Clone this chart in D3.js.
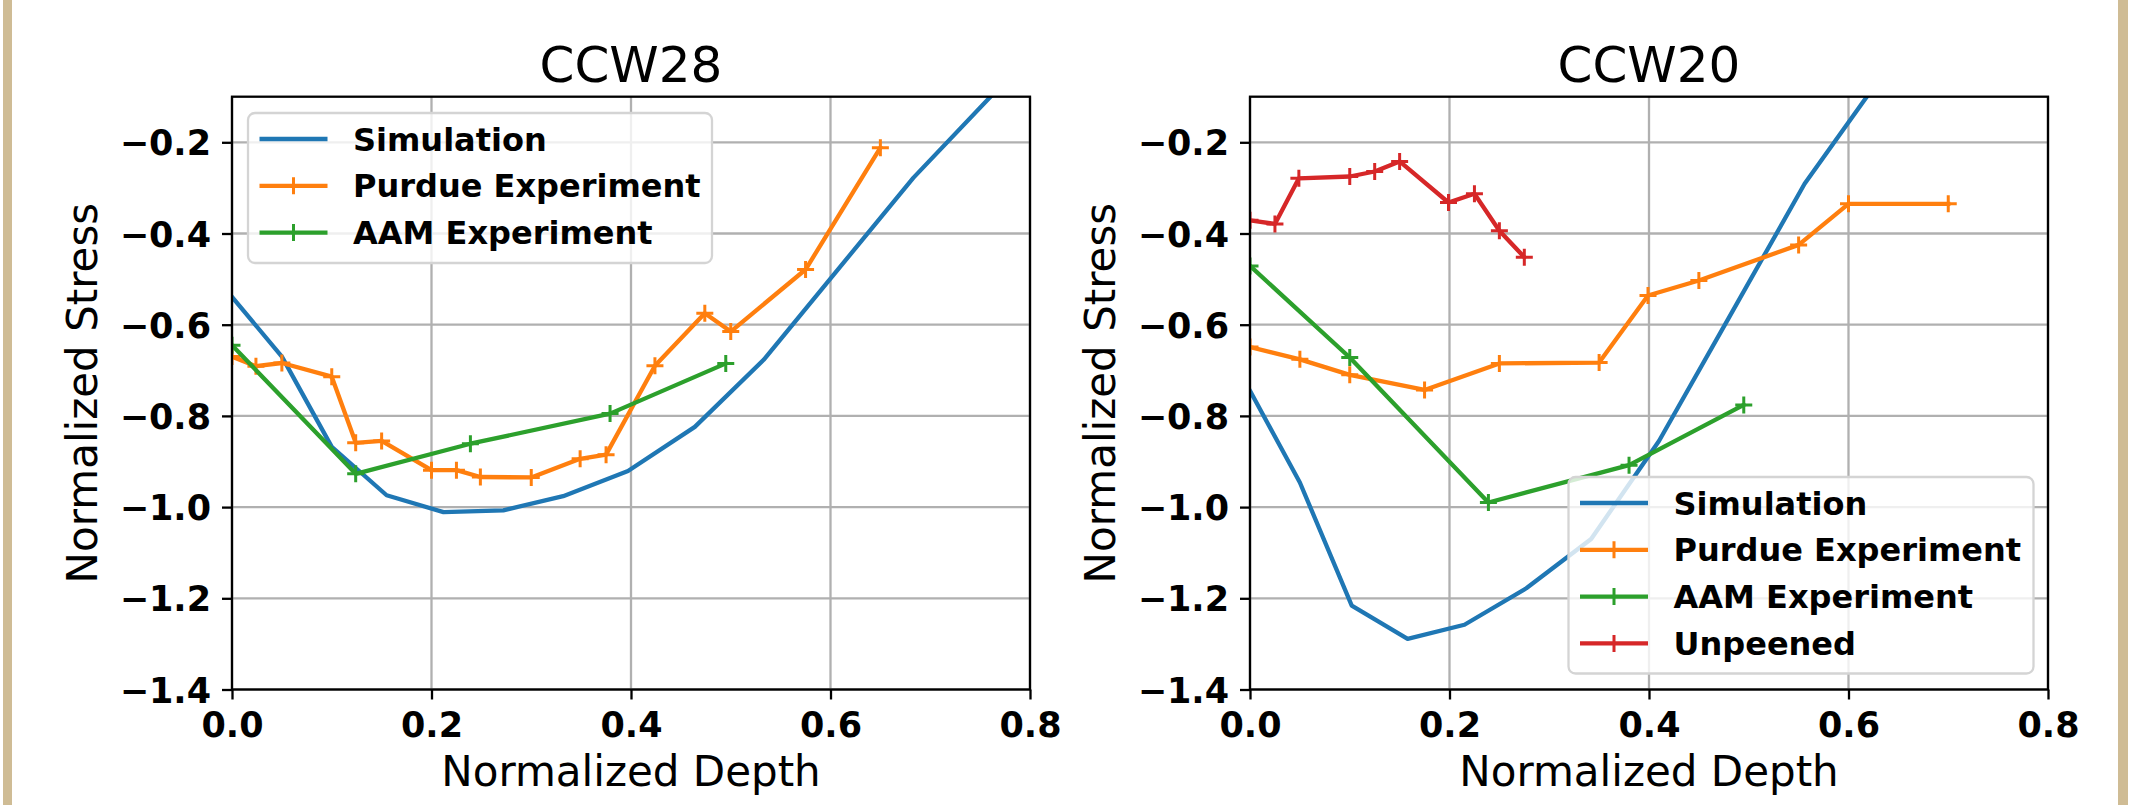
<!DOCTYPE html>
<html>
<head>
<meta charset="utf-8">
<script src="https://cdn.jsdelivr.net/npm/d3@7"></script>
<style>
  body { margin: 0; background: #fff; }
  svg { display: block; font-family: 'DejaVu Sans', sans-serif; }
</style>
</head>
<body>
<div id="chart"></div>
<script>
// values: [normalized depth, normalized stress]
const ccw28Simulation = [
  [0, -0.539], [0.05, -0.670], [0.100, -0.868], [0.155, -0.974], [0.212, -1.011],
  [0.272, -1.007], [0.332, -0.976], [0.397, -0.921], [0.464, -0.824], [0.533, -0.677],
  [0.683, -0.278], [0.83, 0.06]
];
const ccw28Purdue = [
  [0, -0.670], [0.024, -0.691], [0.050, -0.684], [0.100, -0.714], [0.124, -0.859],
  [0.150, -0.855], [0.200, -0.919], [0.225, -0.919], [0.249, -0.934], [0.300, -0.935],
  [0.349, -0.894], [0.375, -0.885], [0.424, -0.690], [0.474, -0.575], [0.500, -0.615],
  [0.575, -0.479], [0.650, -0.212]
];
const ccw28Aam = [
  [0, -0.645], [0.124, -0.927], [0.239, -0.861], [0.379, -0.795], [0.495, -0.685]
];

const ccw20Simulation = [
  [0, -0.745], [0.050, -0.946], [0.102, -1.216], [0.158, -1.289], [0.215, -1.258],
  [0.277, -1.178], [0.342, -1.070], [0.41, -0.855], [0.48, -0.585], [0.556, -0.291],
  [0.70, 0.15]
];
const ccw20Purdue = [
  [0, -0.649], [0.050, -0.676], [0.100, -0.710], [0.175, -0.743], [0.250, -0.685],
  [0.350, -0.683], [0.399, -0.536], [0.450, -0.503], [0.550, -0.425], [0.600, -0.335],
  [0.700, -0.335]
];
const ccw20Aam = [
  [0, -0.471], [0.100, -0.672], [0.239, -0.990], [0.380, -0.908], [0.495, -0.776]
];
const ccw20Unpeened = [
  [0, -0.371], [0.025, -0.379], [0.049, -0.279], [0.100, -0.275], [0.125, -0.264],
  [0.150, -0.242], [0.199, -0.332], [0.225, -0.313], [0.250, -0.394], [0.275, -0.452]
];

const xTicks = [0, 0.2, 0.4, 0.6, 0.8];
const yTicks = [-1.4, -1.2, -1.0, -0.8, -0.6, -0.4, -0.2];
const xDomain = [0, 0.8];
const yDomain = [-1.4, -0.1];

const seriesNames = ['Simulation', 'Purdue Experiment', 'AAM Experiment', 'Unpeened'];
const seriesColors = ['#1f77b4', '#ff7f0e', '#2ca02c', '#d62728'];
const seriesMarkers = [false, true, true, true];

const width = 2137;
const height = 805;

const svg = d3.select('#chart')
  .append('svg')
    .attr('width', width)
    .attr('height', height);

svg.append('rect')
  .attr('width', width)
  .attr('height', height)
  .attr('fill', '#fff');

// beige page edges
svg.append('rect').attr('x', 3).attr('y', 0).attr('width', 9).attr('height', height).attr('fill', '#cfbc95');
svg.append('rect').attr('x', 2118).attr('y', 0).attr('width', 10).attr('height', height).attr('fill', '#cfbc95');

const plusPath = s => `M${-s},0H${s}M0,${-s}V${s}`;

function drawPanel(opts) {
  const { left, right, top, bottom, title, series, legend, id } = opts;

  const x = d3.scaleLinear().domain(xDomain).range([left, right]);
  const y = d3.scaleLinear().domain(yDomain).range([bottom, top]);

  const g = svg.append('g');

  g.append('clipPath')
    .attr('id', id)
    .append('rect')
      .attr('x', left)
      .attr('y', top)
      .attr('width', right - left)
      .attr('height', bottom - top);

  // grid
  g.append('g')
    .selectAll('line')
    .data(xTicks)
    .join('line')
      .attr('x1', d => x(d)).attr('x2', d => x(d))
      .attr('y1', top).attr('y2', bottom)
      .attr('stroke', '#b0b0b0')
      .attr('stroke-width', 2.3);

  g.append('g')
    .selectAll('line')
    .data(yTicks)
    .join('line')
      .attr('x1', left).attr('x2', right)
      .attr('y1', d => y(d)).attr('y2', d => y(d))
      .attr('stroke', '#b0b0b0')
      .attr('stroke-width', 2.3);

  // series
  const line = d3.line().x(d => x(d[0])).y(d => y(d[1]));
  const plot = g.append('g').attr('clip-path', `url(#${id})`);

  series.forEach(s => {
    plot.append('path')
      .datum(s.data)
      .attr('fill', 'none')
      .attr('stroke', seriesColors[s.index])
      .attr('stroke-width', 4.3)
      .attr('stroke-linejoin', 'round')
      .attr('stroke-linecap', 'square')
      .attr('d', line);

    if (seriesMarkers[s.index]) {
      plot.append('g')
        .selectAll('path')
        .data(s.data)
        .join('path')
          .attr('transform', d => `translate(${x(d[0])},${y(d[1])})`)
          .attr('d', plusPath(8.5))
          .attr('stroke', seriesColors[s.index])
          .attr('stroke-width', 3)
          .attr('fill', 'none');
    }
  });

  // spines
  g.append('rect')
    .attr('x', left)
    .attr('y', top)
    .attr('width', right - left)
    .attr('height', bottom - top)
    .attr('fill', 'none')
    .attr('stroke', '#000')
    .attr('stroke-width', 2.3);

  // axes
  const xAxis = d3.axisBottom(x)
    .tickValues(xTicks)
    .tickSize(10)
    .tickPadding(11)
    .tickFormat(d3.format('.1f'));

  const yAxis = d3.axisLeft(y)
    .tickValues(yTicks)
    .tickSize(10)
    .tickPadding(11)
    .tickFormat(d3.format('.1f'));

  const ax = g.append('g')
    .attr('transform', `translate(0,${bottom})`)
    .call(xAxis);

  const ay = g.append('g')
    .attr('transform', `translate(${left},0)`)
    .call(yAxis);

  [ax, ay].forEach(a => {
    a.select('.domain').remove();
    a.selectAll('.tick line').attr('stroke', '#000').attr('stroke-width', 2.3);
    a.selectAll('.tick text')
      .attr('fill', '#000')
      .attr('font-family', 'DejaVu Sans')
      .attr('font-weight', 'bold')
      .attr('font-size', 35);
  });
  ax.selectAll('.tick text').attr('dy', '0.76em');
  ay.selectAll('.tick text').attr('dy', '0.36em');

  // titles
  g.append('text')
    .attr('x', (left + right) / 2)
    .attr('y', 81.5)
    .attr('text-anchor', 'middle')
    .attr('font-size', 50)
    .text(title);

  g.append('text')
    .attr('x', (left + right) / 2)
    .attr('y', 786)
    .attr('text-anchor', 'middle')
    .attr('font-size', 42)
    .text('Normalized Depth');

  g.append('text')
    .attr('transform', `translate(${left - 135},${(top + bottom) / 2}) rotate(-90)`)
    .attr('text-anchor', 'middle')
    .attr('font-size', 42)
    .text('Normalized Stress');

  // legend
  const lg = g.append('g');
  lg.append('rect')
    .attr('x', legend.x)
    .attr('y', legend.y)
    .attr('width', legend.w)
    .attr('height', legend.h)
    .attr('rx', 7)
    .attr('fill', '#fff')
    .attr('fill-opacity', 0.8)
    .attr('stroke', '#d4d4d4')
    .attr('stroke-width', 2.3);

  series.forEach((s, i) => {
    const ry = legend.y + 26 + i * 46.8;
    const hx = legend.x + 11.5;
    lg.append('line')
      .attr('x1', hx).attr('x2', hx + 68)
      .attr('y1', ry).attr('y2', ry)
      .attr('stroke', seriesColors[s.index])
      .attr('stroke-width', 4.3);
    if (seriesMarkers[s.index]) {
      lg.append('path')
        .attr('transform', `translate(${hx + 34},${ry})`)
        .attr('d', plusPath(8.5))
        .attr('stroke', seriesColors[s.index])
        .attr('stroke-width', 3);
    }
    lg.append('text')
      .attr('x', legend.x + 105)
      .attr('y', ry)
      .attr('dy', '0.36em')
      .attr('font-size', 32)
      .attr('font-weight', 'bold')
      .text(seriesNames[s.index]);
  });
}

drawPanel({
  id: 'clip-ccw28',
  left: 232, right: 1030, top: 96.7, bottom: 689.5,
  title: 'CCW28',
  series: [
    { index: 0, data: ccw28Simulation },
    { index: 1, data: ccw28Purdue },
    { index: 2, data: ccw28Aam }
  ],
  legend: { x: 248, y: 113, w: 464, h: 150 }
});

drawPanel({
  id: 'clip-ccw20',
  left: 1250, right: 2048, top: 96.7, bottom: 689.5,
  title: 'CCW20',
  series: [
    { index: 0, data: ccw20Simulation },
    { index: 1, data: ccw20Purdue },
    { index: 2, data: ccw20Aam },
    { index: 3, data: ccw20Unpeened }
  ],
  legend: { x: 1568.5, y: 477, w: 465, h: 196.5 }
});
</script>
</body>
</html>
